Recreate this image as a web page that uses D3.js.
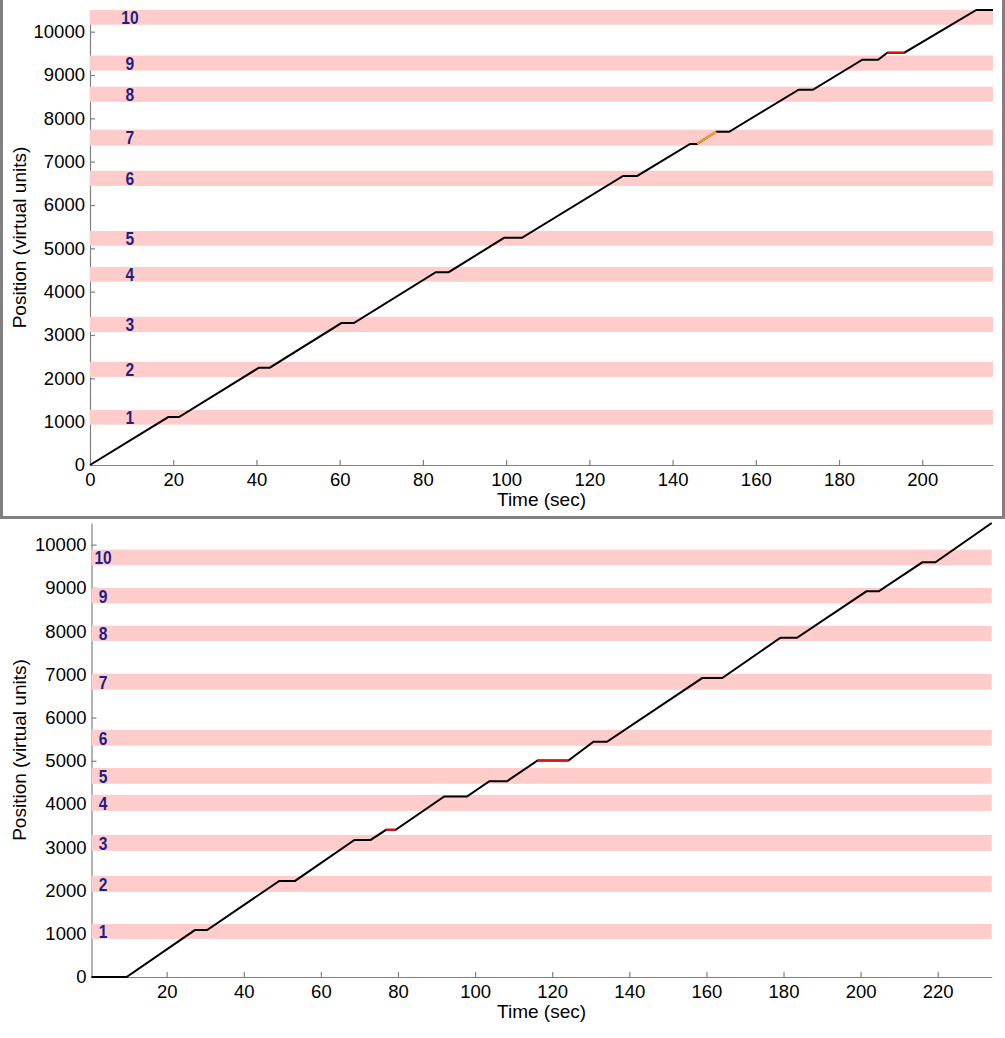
<!DOCTYPE html>
<html>
<head>
<meta charset="utf-8">
<script src="https://cdn.jsdelivr.net/npm/d3@7"></script>
<style>
  body { margin: 0; background: #fff; }
  svg text { font-family: "Liberation Sans", Arial, sans-serif; }
  .tick text { font-size: 18.5px; fill: #000; }
  .axis path, .axis line { stroke: #808080; }
  .title { font-size: 19px; }
  .zone-label { font-family: "Liberation Sans Narrow", "Arial Narrow", "Liberation Sans", sans-serif; font-weight: bold; font-size: 19px; fill: #1e1e84; }
</style>
</head>
<body>
<svg id="chart" width="1005" height="1038"></svg>
<script>
// zone numbers shown on the left of each band
var zoneLabels = ["1","2","3","4","5","6","7","8","9","10"];

// top run: bands (low, high) and trajectory [time, position]
var topBandLo = [930, 2030, 3070, 4230, 5060, 6440, 7370, 8380, 9100, 10160];
var topBandHi = [1270, 2380, 3420, 4570, 5400, 6790, 7740, 8730, 9450, 10500];
var topPath = [[0,0],[18.8,1105],[21.4,1105],[40.6,2245],[43.2,2245],[60.4,3275],[63.4,3275],
  [83.1,4450],[86.2,4450],[99.5,5242],[103.8,5242],[128.1,6670],[131.5,6670],[144.2,7410],[145.9,7410],
  [150.5,7690],[153.6,7690],[170.3,8660],[173.7,8660],[185.6,9353],[189.4,9353],[191.6,9515],
  [195.7,9515],[213,10500],[217,10500]];
var topOrange = [[[145.9,7410],[150.5,7690]]];
var topRed = [[[191.6,9515],[195.7,9515]]];
var topXTicks = [0,20,40,60,80,100,120,140,160,180,200];

// bottom run
var botBandLo = [880, 1968, 2917, 3843, 4468, 5347, 6644, 7771, 8641, 9521];
var botBandHi = [1227, 2338, 3287, 4213, 4838, 5718, 7014, 8125, 8998, 9884];
var botPath = [[0.5,0],[9.6,0],[27.3,1085],[30.5,1085],[49.2,2222],[53.3,2222],[68.7,3171],[72.9,3171],
  [76.9,3403],[79.4,3403],[92,4174],[97.9,4174],[103.7,4530],[108.3,4530],[116.2,5007],[124.2,5007],
  [130.7,5440],[134.2,5440],[158.9,6914],[164.1,6914],[179.2,7847],[183.5,7847],[201.5,8919],
  [204.7,8919],[216,9590],[219.4,9590],[234,10500]];
var botRed = [[[76.9,3403],[79.4,3403]], [[116.2,5007],[124.2,5007]]];
var botXTicks = [20,40,60,80,100,120,140,160,180,200,220];

var yTicks = [0,1000,2000,3000,4000,5000,6000,7000,8000,9000,10000];

var svg = d3.select("#chart");

// frame around the upper screenshot
svg.append("path")
    .attr("d", "M1.5,0 V517.5 H1003.5 V0")
    .attr("fill", "none")
    .attr("stroke", "#808080")
    .attr("stroke-width", 3);

function panel(opt) {
  var g = svg.append("g");
  var x = d3.scaleLinear().domain(opt.xDomain).range([opt.left, opt.right]);
  var y = d3.scaleLinear().domain([0, 10500]).range([opt.bottom, opt.top]);

  var xAxis = d3.axisBottom(x).tickValues(opt.xTicks).tickFormat(d3.format("d"))
      .tickSize(-5).tickPadding(8).tickSizeOuter(0);
  var yAxis = d3.axisLeft(y).tickValues(yTicks).tickFormat(d3.format("d"))
      .tickSize(-5).tickPadding(5).tickSizeOuter(0);

  g.append("g").attr("class", "axis")
      .attr("transform", "translate(0," + opt.bottom + ")")
      .call(xAxis);
  g.append("g").attr("class", "axis")
      .attr("transform", "translate(" + opt.left + ",0)")
      .call(yAxis);
  g.selectAll(".axis path, .axis line").attr("stroke-width", 1.2);
  g.selectAll(".axis .domain").attr("stroke", "#808080");

  // bands
  g.selectAll("rect.band")
      .data(opt.lo.map(function(d, i){ return {lo: d, hi: opt.hi[i]}; }))
    .enter().append("rect")
      .attr("class", "band")
      .attr("x", x(opt.xDomain[0]))
      .attr("width", x(opt.xDomain[1]) - x(opt.xDomain[0]))
      .attr("y", function(d){ return y(d.hi); })
      .attr("height", function(d){ return y(d.lo) - y(d.hi); })
      .attr("fill", "#ffcccc");

  // narrow bold zone numbers
  g.selectAll("text.zone-label")
      .data(opt.lo.map(function(d, i){ return {mid: (d + opt.hi[i]) / 2, label: zoneLabels[i]}; }))
    .enter().append("text")
      .attr("class", "zone-label")
      .attr("transform", function(d){
        return "translate(" + x(opt.labelX) + "," + y(d.mid) + ") scale(0.82,1)";
      })
      .attr("dy", "0.36em")
      .attr("text-anchor", "middle")
      .text(function(d){ return d.label; });

  var line = d3.line().x(function(d){ return x(d[0]); }).y(function(d){ return y(d[1]); });

  g.append("path").datum(opt.path)
      .attr("d", line).attr("fill", "none").attr("stroke", "#000").attr("stroke-width", 2);

  opt.highlights.forEach(function(h){
    h.segs.forEach(function(s){
      g.append("path").datum(s)
          .attr("d", line).attr("fill", "none").attr("stroke", h.color).attr("stroke-width", 2.2);
    });
  });

  g.append("text")
      .attr("class", "title")
      .attr("x", (opt.left + opt.right) / 2)
      .attr("y", opt.bottom + 41)
      .attr("text-anchor", "middle")
      .text("Time (sec)");

  g.append("text")
      .attr("class", "title")
      .attr("transform", "translate(26," + ((opt.top + opt.bottom) / 2) + ") rotate(-90)")
      .attr("text-anchor", "middle")
      .text("Position (virtual units)");
}

panel({
  xDomain: [0, 217], left: 90, right: 993, top: 10, bottom: 465,
  xTicks: topXTicks, lo: topBandLo, hi: topBandHi, labelX: 9.6,
  path: topPath,
  highlights: [{color: "#f0a030", segs: topOrange}, {color: "#e01010", segs: topRed}]
});

panel({
  xDomain: [0.5, 234], left: 91.5, right: 991.7, top: 523, bottom: 977,
  xTicks: botXTicks, lo: botBandLo, hi: botBandHi, labelX: 3.5,
  path: botPath,
  highlights: [{color: "#e01010", segs: botRed}]
});
</script>
</body>
</html>
